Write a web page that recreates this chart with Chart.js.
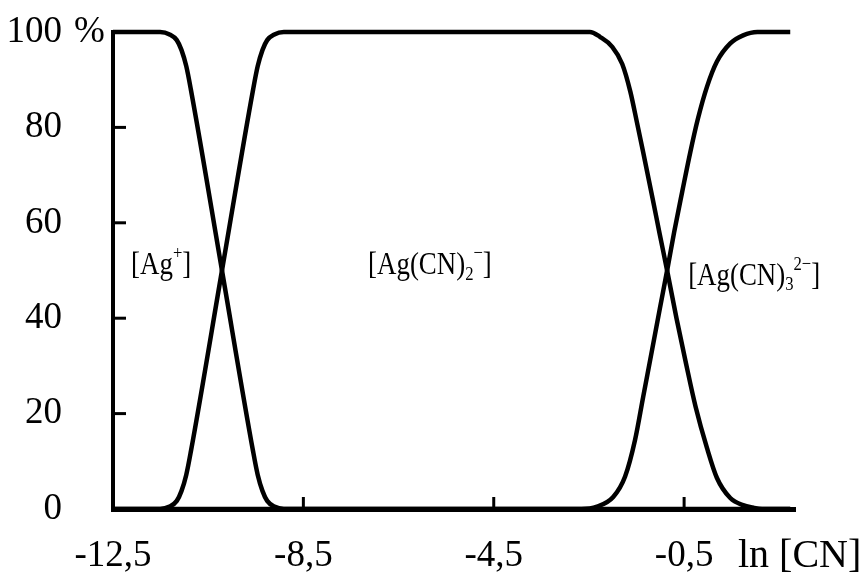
<!DOCTYPE html>
<html>
<head>
<meta charset="utf-8">
<script src="https://cdn.jsdelivr.net/npm/chart.js@4.4.0/dist/chart.umd.min.js"></script>
<style>
  html, body { margin: 0; padding: 0; background: #fff; }
</style>
</head>
<body>
<canvas id="canvas" width="868" height="578"></canvas>
<script>
// Valores: ln [CN] y porcentaje de cada especie
const agPlusX = [-12.5, -11.51, -11.31, -11.16, -11.06, -10.96, -10.865, -10.21, -9.555, -9.46, -9.36, -9.26, -9.11, -8.91, 1.73];
const agPlusY = [100, 100, 99.5, 98.3, 96.2, 92.8, 88, 50, 12, 7.2, 3.8, 1.7, 0.5, 0, 0];

const agCN2X = [-12.5, -11.51, -11.31, -11.16, -11.06, -10.96, -10.865, -10.21, -9.555, -9.46, -9.36, -9.26, -9.11, -8.91,
  -2.48, -2.27, -2.01, -1.8, -1.63, -1.49, -1.36, -1.16, -1.01, -0.857, -0.66, -0.46, -0.26, -0.02, 0.19, 0.47, 0.74, 0.94, 1.14, 1.73];
const agCN2Y = [0, 0, 0.5, 1.7, 3.8, 7.2, 12, 50, 88, 92.8, 96.2, 98.3, 99.5, 100,
  100, 99, 96.9, 93.3, 87.5, 81, 74.8, 65, 57.5, 50, 40, 30.5, 21.5, 12.8, 6.5, 2.3, 0.8, 0.3, 0, 0];

const agCN3X = [-12.5, -2.66, -2.33, -1.99, -1.74, -1.53, -1.36, -1.17, -1.01, -0.857, -0.71, -0.54, -0.37, -0.21, -0.02, 0.19, 0.47, 0.74, 1.04, 1.73];
const agCN3Y = [0, 0, 0.5, 2.5, 6.8, 14.5, 23.5, 33.5, 42, 50, 58, 66.5, 74.8, 81.8, 88.5, 93.8, 97.6, 99.3, 100, 100];

const xTicks = [-12.5, -8.5, -4.5, -0.5];
const yTicks = [0, 20, 40, 60, 80, 100];

// Etiquetas de especies (posicion en unidades de datos)
const speciesLabels = [
  { x: -12.12, y: 51, parts: [["[Ag", 0], ["+", 1], ["]", 0]] },
  { x: -7.14, y: 51, parts: [["[Ag(CN)", 0], ["2", -1], ["\u2212", 1], ["]", 0]] },
  { x: -0.415, y: 48.8, parts: [["[Ag(CN)", 0], ["3", -1], ["2\u2212", 1], ["]", 0]] },
];

const FONT = "'Liberation Serif', 'Times New Roman', serif";

const toPoints = (xs, ys) => xs.map((x, i) => ({ x: x, y: ys[i] }));

// Dibuja texto con subindices / superindices (algo estrecho, como en la figura)
function drawRich(ctx, parts, x, y, size, squeeze) {
  ctx.save();
  ctx.translate(x, y);
  ctx.scale(squeeze, 1);
  let cx = 0;
  parts.forEach(([text, mode]) => {
    const s = mode === 0 ? size : size * 0.62;
    const dy = mode === 1 ? -size * 0.36 : mode === -1 ? size * 0.28 : 0;
    ctx.font = s + "px " + FONT;
    ctx.fillText(text, cx, dy);
    cx += ctx.measureText(text).width;
  });
  ctx.restore();
}

// Quita el relleno automatico de las escalas
function noPadding(s) {
  s.paddingTop = 0;
  s.paddingBottom = 0;
  s.paddingLeft = 0;
  s.paddingRight = 0;
}

const decor = {
  id: "decor",
  afterDraw(chart) {
    const { ctx, scales: { x, y } } = chart;
    ctx.save();
    ctx.strokeStyle = "#000";
    ctx.lineWidth = 3;
    // marcas de los ejes hacia adentro
    yTicks.slice(1, -1).forEach((v) => {
      const py = y.getPixelForValue(v);
      ctx.beginPath();
      ctx.moveTo(x.left, py);
      ctx.lineTo(x.left + 13, py);
      ctx.stroke();
    });
    xTicks.slice(1).forEach((v) => {
      const px = x.getPixelForValue(v);
      ctx.beginPath();
      ctx.moveTo(px, y.bottom);
      ctx.lineTo(px, y.bottom - 12);
      ctx.stroke();
    });

    ctx.fillStyle = "#000";
    ctx.textBaseline = "middle";
    ctx.textAlign = "left";
    // simbolo de porcentaje junto a 100
    ctx.font = "37px " + FONT;
    ctx.fillText("%", 74, y.getPixelForValue(100));
    // titulo del eje x
    ctx.font = "40px " + FONT;
    ctx.fillText("ln [CN]", x.right - 57, 556);

    speciesLabels.forEach((l) => {
      drawRich(ctx, l.parts, x.getPixelForValue(l.x), y.getPixelForValue(l.y), 32, 0.84);
    });
    ctx.restore();
  },
};

const lineStyle = {
  borderColor: "#000",
  borderWidth: 4.5,
  pointRadius: 0,
  cubicInterpolationMode: "monotone",
  clip: false,
};

new Chart(document.getElementById("canvas"), {
  type: "line",
  data: {
    datasets: [
      { label: "[Ag+]", data: toPoints(agPlusX, agPlusY), ...lineStyle },
      { label: "[Ag(CN)2-]", data: toPoints(agCN2X, agCN2Y), ...lineStyle },
      { label: "[Ag(CN)3 2-]", data: toPoints(agCN3X, agCN3Y), ...lineStyle },
    ],
  },
  options: {
    responsive: false,
    animation: false,
    layout: { autoPadding: false, padding: { left: 0, top: 32, right: 73, bottom: 0 } },
    plugins: { legend: { display: false }, tooltip: { enabled: false } },
    scales: {
      x: {
        type: "linear",
        min: -12.5,
        max: 1.83,
        afterBuildTicks: (s) => { s.ticks = xTicks.map((v) => ({ value: v })); },
        afterFit: (s) => { s.height = 69; noPadding(s); },
        grid: { display: true, drawOnChartArea: false, drawTicks: false },
        border: { display: true, color: "#000", width: 5 },
        ticks: {
          color: "#000",
          font: { family: FONT, size: 37 },
          padding: 25,
          maxRotation: 0,
          autoSkip: false,
          callback: (v) => String(v).replace(".", ","),
        },
      },
      y: {
        min: 0,
        max: 100,
        afterBuildTicks: (s) => { s.ticks = yTicks.map((v) => ({ value: v })); },
        afterFit: (s) => { s.width = 113; noPadding(s); },
        grid: { display: true, drawOnChartArea: false, drawTicks: false },
        border: { display: true, color: "#000", width: 4 },
        ticks: {
          color: "#000",
          font: { family: FONT, size: 37 },
          padding: 51,
          autoSkip: false,
        },
      },
    },
  },
  plugins: [decor],
});
</script>
</body>
</html>
